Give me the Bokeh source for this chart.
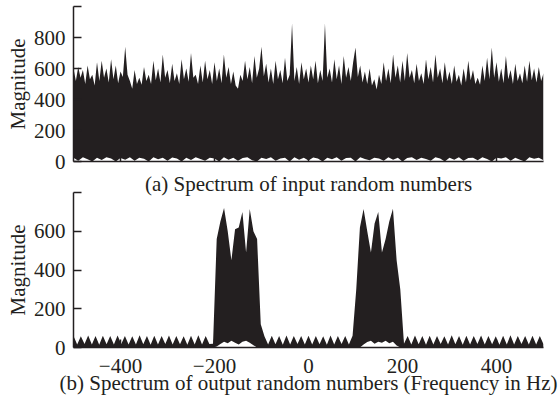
import numpy as np
from bokeh.plotting import figure
from bokeh.layouts import column
from bokeh.models import Range1d, FixedTicker
from bokeh.embed import file_html
from bokeh.resources import INLINE

# ---------------- data ----------------
# (a) input spectrum: upper edge sampled every 5 Hz from -500 to 500 Hz
freq_in = np.arange(-500, 501, 5)
mag_in = [
    600, 520, 610, 540, 590, 500, 620, 530, 560, 490, 640, 520, 650, 540, 600, 510, 660, 530, 620, 505,
    580, 545, 740, 560, 520, 470, 590, 500, 540, 495, 610, 520, 560, 500, 650, 525, 600, 510, 690, 540,
    590, 505, 630, 520, 570, 500, 660, 530, 600, 515, 700, 540, 560, 500, 620, 510, 650, 530, 590, 500,
    640, 520, 600, 505, 690, 540, 610, 500, 580, 490, 470, 560, 520, 650, 530, 610, 505, 680, 540, 600,
    740, 550, 630, 510, 600, 500, 650, 530, 590, 505, 670, 520, 560, 890, 520, 610, 500, 640, 530, 600,
    510, 620, 530, 650, 505, 590, 520, 890, 540, 600, 510, 660, 530, 620, 500, 680, 540, 610, 520, 640,
    735, 545, 620, 510, 580, 500, 600, 490, 530, 465, 560, 500, 640, 520, 600, 505, 690, 540, 620, 510,
    650, 520, 700, 540, 590, 505, 630, 520, 570, 500, 660, 530, 610, 510, 690, 540, 600, 505, 640, 520,
    580, 500, 620, 515, 560, 490, 600, 510, 650, 525, 590, 500, 540, 495, 620, 520, 670, 530, 735, 540,
    640, 515, 600, 505, 680, 530, 590, 500, 630, 520, 570, 505, 620, 515, 650, 525, 600, 510, 610, 520,
    570,
]
# (a) low-level gaps of the input spectrum, every 10 Hz
freq_in_gap = np.arange(-500, 501, 10)
gap_in = [
    25, 5, 28, 15, 0, 25, 10, 28, 20, 0,
    22, 12, 28, 5, 25, 18, 0, 28, 15, 25,
    5, 26, 20, 0, 25, 10, 28, 16, 5, 25,
    20, 0, 28, 12, 25, 5, 22, 28, 8, 0,
    25, 16, 28, 5, 20, 25, 0, 28, 12, 25,
    6, 26, 20, 0, 25, 15, 28, 5, 22, 25,
    0, 28, 16, 8, 25, 20, 5, 28, 12, 25,
    0, 22, 28, 10, 25, 16, 5, 28, 20, 0,
    25, 12, 28, 5, 22, 25, 8, 28, 16, 0,
    25, 20, 28, 5, 25, 12, 0, 28, 18, 25, 8,
]
# (b) output spectrum, 129 samples from -500 to 500 Hz
freq_out = np.linspace(-500, 500, 129)
mag_out = [
    60, 15, 58, 18, 62, 16, 60, 14, 61, 17, 59, 15, 62, 18, 60, 16, 58, 15, 63, 17,
    60, 14, 61, 16, 59, 18, 62, 15, 60, 17, 58, 14, 61, 16, 63, 15, 60, 18,
    20,
    560, 650, 720, 600, 450, 610, 620, 700, 490, 715, 600, 560,
    120,
    58, 15, 61, 17, 60, 14, 62, 16, 59, 18, 60, 15,
    61,
    15, 60, 17, 58, 14, 62, 16, 60, 18, 59, 15, 61,
    300,
    620, 715, 600, 490, 640, 700, 490, 560, 650, 716, 450, 300,
    20,
    60, 15, 62, 17, 59, 14, 61, 16, 60, 18, 58, 15, 63, 17, 60, 14, 61, 16, 59, 18,
    62, 15, 60, 17, 58, 14, 61, 16, 63, 15, 60, 18, 59, 16, 61, 15, 60, 17,
]
gap_out = (
    [0] * 39
    + [5, 18, 30, 22, 35, 25, 15, 30, 35, 25, 12, 0]
    + [0] * 27
    + [0, 15, 28, 35, 20, 30, 25, 35, 22, 30, 10, 0]
    + [0] * 39
)

x_ticks = [-400, -200, 0, 200, 400]
x_tick_labels = {-400: "\u2212400", -200: "\u2212200", 0: "0", 200: "200", 400: "400"}
y_ticks_a = [0, 200, 400, 600, 800, 1000]
y_ticks_b = [0, 200, 400, 600, 800]

caption_a = "(a) Spectrum of input random numbers"
caption_b = "(b) Spectrum of output random numbers (Frequency in Hz)"

# ---------------- style ----------------
INK = "#231f20"
FONT = "Liberation Serif"
TICK_FS = "21px"
LABEL_FS = "21px"


def style(p):
    p.grid.visible = False
    p.outline_line_color = None
    p.background_fill_color = None
    p.border_fill_color = None
    for ax in (p.xaxis[0], p.yaxis[0]):
        ax.axis_line_color = INK
        ax.axis_line_width = 1.5
        ax.major_tick_line_color = INK
        ax.major_tick_line_width = 1.5
        ax.major_tick_in = 8
        ax.major_tick_out = 0
        ax.minor_tick_line_color = None
        ax.major_label_text_font = FONT
        ax.major_label_text_font_size = TICK_FS
        ax.major_label_text_color = INK
        ax.axis_label_text_font = FONT
        ax.axis_label_text_font_size = LABEL_FS
        ax.axis_label_text_font_style = "normal"
        ax.axis_label_text_color = INK
    p.yaxis[0].major_label_standoff = 8
    p.yaxis[0].axis_label_standoff = 1


# ---------------- figure (a) ----------------
p1 = figure(width=560, height=198, output_backend="svg", toolbar_location=None,
            x_range=Range1d(-500, 500), y_range=Range1d(0, 1000),
            min_border_left=73, min_border_right=17, min_border_top=6, min_border_bottom=36)
p1.varea(x=freq_in, y1=0, y2=mag_in, fill_color=INK)
p1.varea(x=freq_in_gap, y1=0, y2=gap_in, fill_color="white")
style(p1)
p1.xaxis[0].ticker = FixedTicker(ticks=x_ticks)
p1.xaxis[0].major_label_overrides = {t: "" for t in x_ticks}
p1.xaxis[0].major_label_text_font_size = "0px"
p1.xaxis[0].major_label_standoff = 0
p1.xaxis[0].axis_label = caption_a
p1.xaxis[0].axis_label_standoff = 10
p1.yaxis[0].ticker = FixedTicker(ticks=y_ticks_a)
p1.yaxis[0].major_label_overrides = {1000: ""}
p1.yaxis[0].axis_label = "Magnitude"

# ---------------- figure (b) ----------------
p2 = figure(width=560, height=220, output_backend="svg", toolbar_location=None,
            x_range=Range1d(-500, 500), y_range=Range1d(0, 800),
            min_border_left=73, min_border_right=17, min_border_top=10, min_border_bottom=55,
            margin=(-16, 0, 0, 0))
p2.varea(x=freq_out, y1=0, y2=mag_out, fill_color=INK)
p2.varea(x=freq_out, y1=0, y2=gap_out, fill_color="white")
style(p2)
p2.xaxis[0].ticker = FixedTicker(ticks=x_ticks)
p2.xaxis[0].major_label_overrides = x_tick_labels
p2.xaxis[0].major_label_standoff = 11
p2.xaxis[0].axis_label = caption_b
p2.xaxis[0].axis_label_standoff = -5
p2.yaxis[0].ticker = FixedTicker(ticks=y_ticks_b)
p2.yaxis[0].major_label_overrides = {800: ""}
p2.yaxis[0].axis_label = "Magnitude"

layout = column(p1, p2, spacing=0)
open("out.html", "w").write(file_html(layout, INLINE))
